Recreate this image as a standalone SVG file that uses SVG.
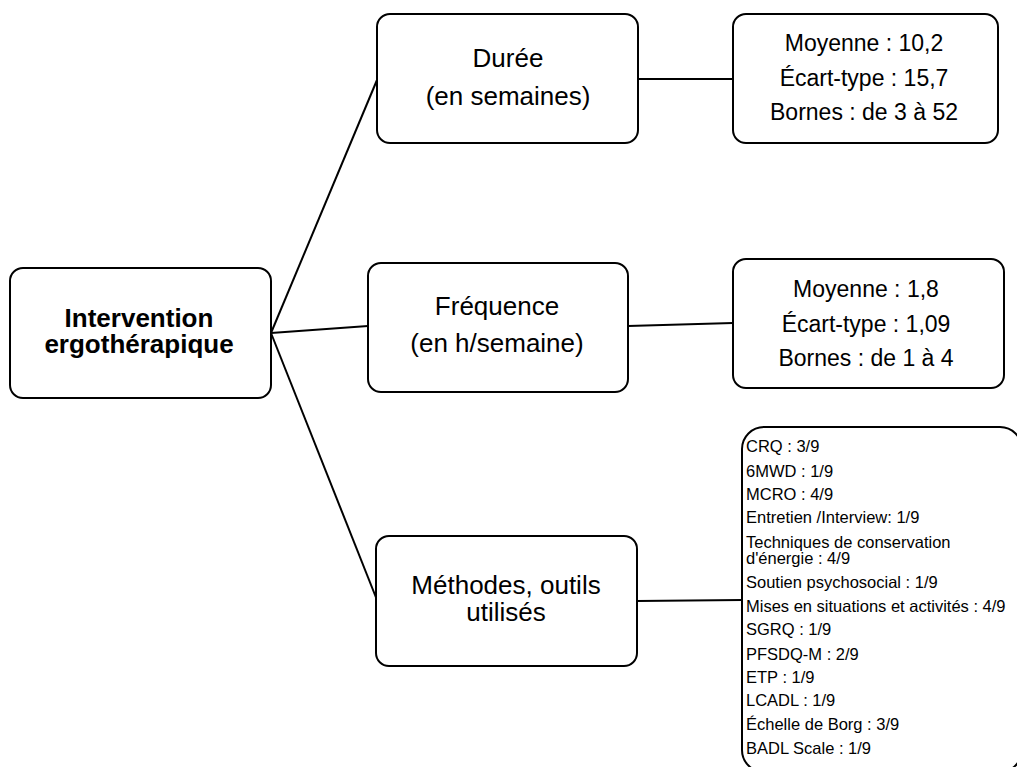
<svg xmlns="http://www.w3.org/2000/svg" width="1017" height="767" viewBox="0 0 1017 767">
<style>
.box{fill:#fff;stroke:#000;stroke-width:2}
.t{font-family:"Liberation Sans",Arial,sans-serif;font-size:26px;fill:#000;text-anchor:middle}
.b{font-weight:bold}
.s{font-family:"Liberation Sans",Arial,sans-serif;font-size:23px;fill:#000;text-anchor:middle}
.l{font-family:"Liberation Sans",Arial,sans-serif;font-size:16.5px;fill:#000}
.c{stroke:#000;stroke-width:2;fill:none}
</style>
<rect width="1017" height="767" fill="#fff"/>
<g id="connectors">
<line class="c" x1="271" y1="333" x2="377" y2="80"/>
<line class="c" x1="271" y1="333" x2="368" y2="326"/>
<line class="c" x1="271" y1="333" x2="377" y2="600"/>
<line class="c" x1="638" y1="79" x2="733" y2="79"/>
<line class="c" x1="628" y1="326" x2="733" y2="323"/>
<line class="c" x1="637" y1="601" x2="742" y2="600"/>
</g>
<g id="root">
<rect class="box" x="10" y="268" width="261" height="130" rx="13"/>
<text class="t b" x="139" y="327">Intervention</text>
<text class="t b" x="139" y="353">ergothérapique</text>
</g>
<g id="duree">
<rect class="box" x="377" y="14" width="261" height="129" rx="13"/>
<text class="t" x="508" y="67">Durée</text>
<text class="t" x="508" y="105">(en semaines)</text>
</g>
<g id="duree-stats">
<rect class="box" x="733" y="14" width="265" height="129" rx="13"/>
<text class="s" x="864" y="51">Moyenne : 10,2</text>
<text class="s" x="864" y="86">Écart-type : 15,7</text>
<text class="s" x="864" y="120">Bornes : de 3 à 52</text>
</g>
<g id="frequence">
<rect class="box" x="368" y="263" width="260" height="129" rx="13"/>
<text class="t" x="497" y="315">Fréquence</text>
<text class="t" x="497" y="352">(en h/semaine)</text>
</g>
<g id="frequence-stats">
<rect class="box" x="733" y="259" width="271" height="129" rx="13"/>
<text class="s" x="866" y="297">Moyenne : 1,8</text>
<text class="s" x="866" y="332">Écart-type : 1,09</text>
<text class="s" x="866" y="366">Bornes : de 1 à 4</text>
</g>
<g id="methodes">
<rect class="box" x="376" y="536" width="261" height="130" rx="13"/>
<text class="t" x="506" y="594">Méthodes, outils</text>
<text class="t" x="506" y="621">utilisés</text>
</g>
<g id="methodes-list">
<rect class="box" x="742" y="427" width="280" height="345" rx="22"/>
<text class="l" x="746" y="452">CRQ : 3/9</text>
<text class="l" x="746" y="477">6MWD : 1/9</text>
<text class="l" x="746" y="500">MCRO : 4/9</text>
<text class="l" x="746" y="523">Entretien /Interview: 1/9</text>
<text class="l" x="746" y="548">Techniques de conservation</text>
<text class="l" x="746" y="564">d'énergie : 4/9</text>
<text class="l" x="746" y="588">Soutien psychosocial : 1/9</text>
<text class="l" x="746" y="612">Mises en situations et activités : 4/9</text>
<text class="l" x="746" y="635">SGRQ : 1/9</text>
<text class="l" x="746" y="660">PFSDQ-M : 2/9</text>
<text class="l" x="746" y="683">ETP : 1/9</text>
<text class="l" x="746" y="706">LCADL : 1/9</text>
<text class="l" x="746" y="730">Échelle de Borg : 3/9</text>
<text class="l" x="746" y="754">BADL Scale : 1/9</text>
</g>
</svg>
